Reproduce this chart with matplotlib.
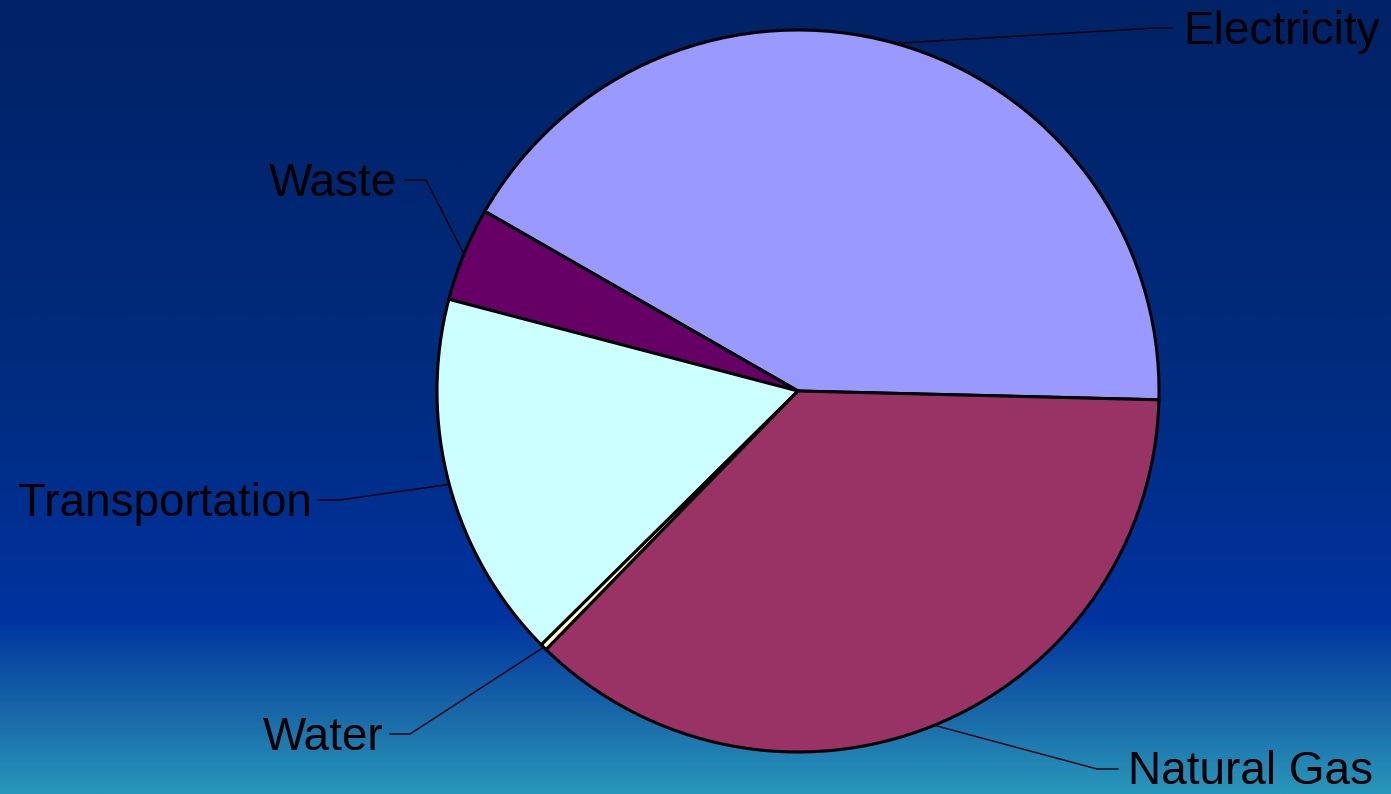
import numpy as np
import matplotlib.pyplot as plt
from matplotlib.colors import LinearSegmentedColormap

plt.rcParams['font.family'] = ['Liberation Sans', 'DejaVu Sans']

# data (percent shares), counterclockwise from the right
labels = ['Electricity', 'Waste', 'Transportation', 'Water', 'Natural Gas']
shares = [42.1, 4.2, 16.5, 0.3, 36.9]
colors = ['#9999FF', '#660066', '#CCFFFF', '#FFFFCC', '#993366']

W, H = 1391, 794
fig = plt.figure(figsize=(W / 100, H / 100), dpi=100)
ax = fig.add_axes([0, 0, 1, 1])

# background gradient (row 0 = top of picture)
bg = LinearSegmentedColormap.from_list('bg', [
    (0.0, '#002266'), (0.5, '#002c80'), (0.78, '#0033a0'),
    (0.9, '#1868a8'), (1.0, '#2896ba')])
grad = np.linspace(0, 1, 400).reshape(-1, 1)
ax.imshow(grad, cmap=bg, aspect='auto', origin='upper',
          extent=(0, W, 0, H), zorder=0)

cx, cy, r = 798, H - 391, 361
start = -1.4
wedges, _ = ax.pie(shares, colors=colors, startangle=start, counterclock=True,
                   center=(cx, cy), radius=r, frame=True,
                   wedgeprops=dict(edgecolor='black', linewidth=2.2))
ax.set_xlim(0, W)
ax.set_ylim(0, H)
ax.set_aspect('equal')
ax.axis('off')

# label layout: (elbow x, elbow y, end x, text x, ha)  in screen pixels
layout = {
    'Electricity': (1155, 28, 1172, 1183, 'left'),
    'Waste': (426, 180, 405, 397, 'right'),
    'Transportation': (340, 500, 318, 312, 'right'),
    'Water': (410, 734, 390, 383, 'right'),
    'Natural Gas': (1097, 769, 1118, 1128, 'left'),
}

for w, lab in zip(wedges, labels):
    mid = np.deg2rad((w.theta1 + w.theta2) / 2)
    px, py = cx + r * np.cos(mid), cy + r * np.sin(mid)
    ex, ey, endx, tx, ha = layout[lab]
    ey = H - ey
    ax.plot([px, ex, endx], [py, ey, ey], color='black', lw=1.0, zorder=5)
    ax.text(tx, ey - 15.5, lab, ha=ha, va='baseline', fontsize=33, color='black')

fig.savefig('out.png', dpi=100)
